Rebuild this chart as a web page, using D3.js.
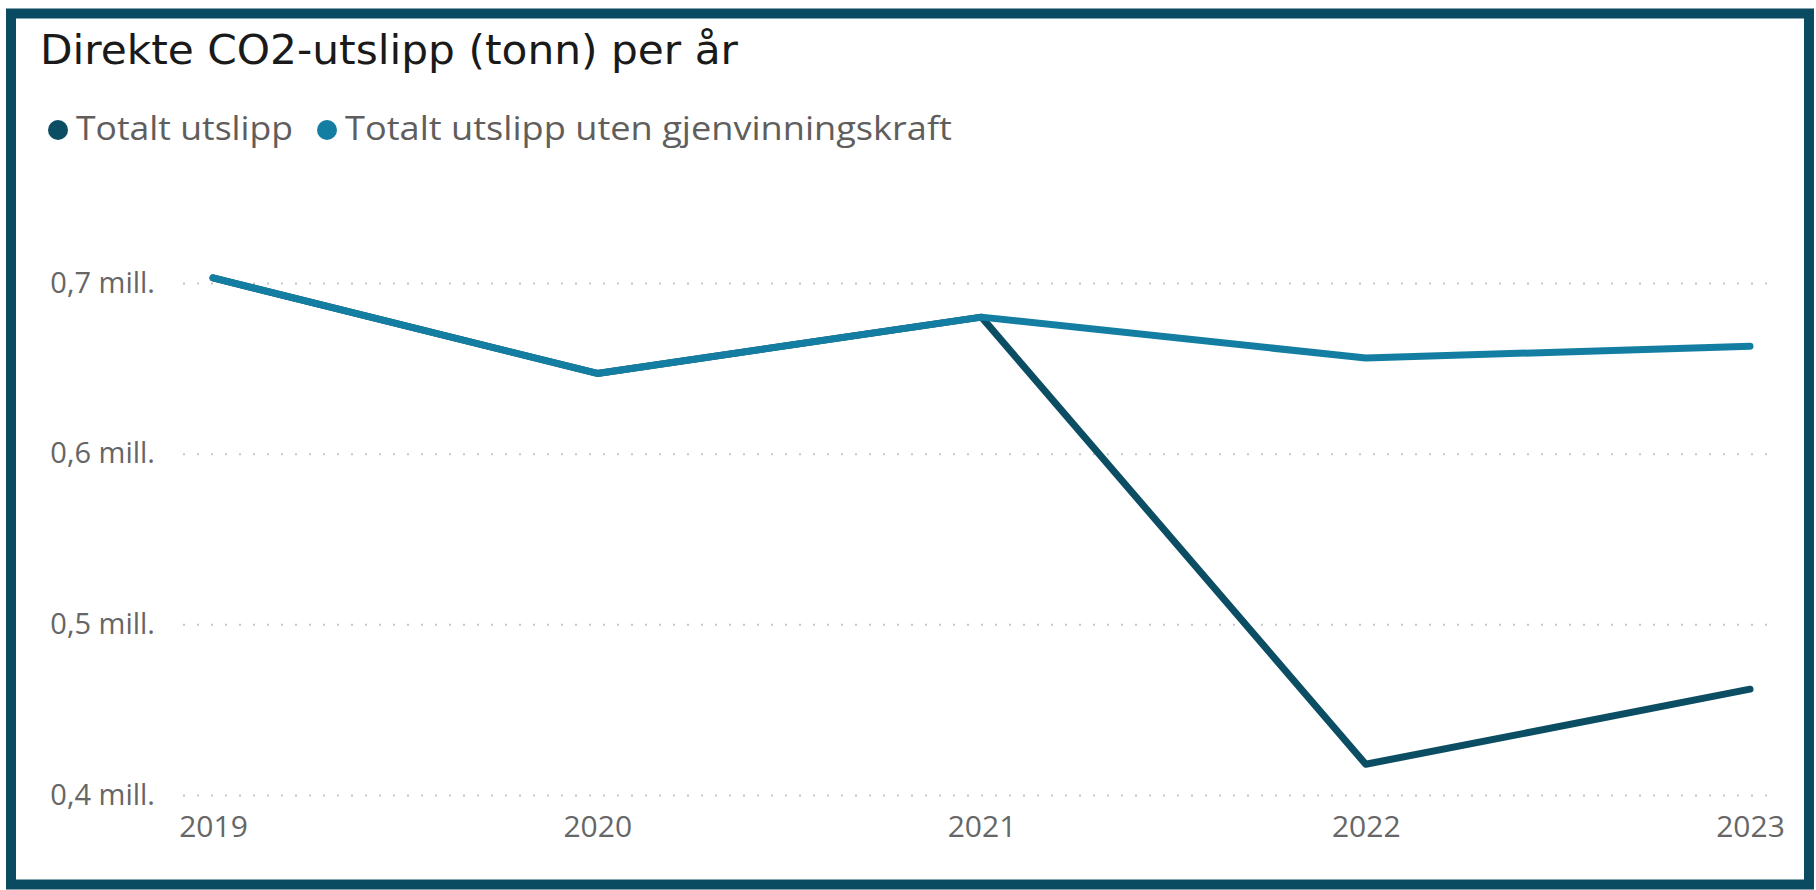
<!DOCTYPE html>
<html>
<head>
<meta charset="utf-8">
<script src="https://cdn.jsdelivr.net/npm/d3@7"></script>
<style>
  body { margin: 0; background: #fff; }
  svg { display: block; }
</style>
</head>
<body>
<div class="chart"></div>
<script>
// data
var years = ["2019", "2020", "2021", "2022", "2023"];
var totalt = [0.703, 0.647, 0.680, 0.418, 0.462];
var utenGjenvinning = [0.703, 0.647, 0.680, 0.656, 0.663];
var yTicks = [0.4, 0.5, 0.6, 0.7];
var seriesNames = ["Totalt utslipp", "Totalt utslipp uten gjenvinningskraft"];
var seriesColors = ["#0b4d63", "#137ea2"];

var svgWidth = 1816;
var svgHeight = 890;

var svg = d3.select(".chart")
  .append("svg")
  .attr("width", svgWidth)
  .attr("height", svgHeight);

// frame
svg.append("rect")
  .attr("x", 11)
  .attr("y", 13.5)
  .attr("width", 1798)
  .attr("height", 871)
  .attr("fill", "#fff")
  .attr("stroke", "#0b4b61")
  .attr("stroke-width", 10);

// title
svg.append("text")
  .attr("x", 40)
  .attr("y", 64)
  .attr("font-family", "'DejaVu Sans Condensed', 'Liberation Sans Narrow', sans-serif")
  .attr("font-size", 41)
  .attr("fill", "#1a1a1a")
  .attr("textLength", 698)
  .attr("lengthAdjust", "spacingAndGlyphs")
  .text("Direkte CO2-utslipp (tonn) per år");

// legend
var legendPos = [
  { cx: 58, tx: 76, len: 217 },
  { cx: 327, tx: 345, len: 607 }
];
seriesNames.forEach(function(name, i) {
  svg.append("circle")
    .attr("cx", legendPos[i].cx)
    .attr("cy", 130)
    .attr("r", 10)
    .attr("fill", seriesColors[i]);
  svg.append("text")
    .attr("x", legendPos[i].tx)
    .attr("y", 140)
    .attr("font-family", "'Open Sans', 'Noto Sans', sans-serif")
    .attr("font-size", 32)
    .attr("fill", "#605e5c")
    .attr("textLength", legendPos[i].len)
    .attr("lengthAdjust", "spacingAndGlyphs")
    .text(name);
});

// scales
var xScale = d3.scalePoint()
  .domain(years)
  .range([213, 1750]);

var yScale = d3.scaleLinear()
  .domain([0.4, 0.7])
  .range([795, 283]);

// y axis with dotted gridlines
var leftAxis = d3.axisLeft(yScale)
  .tickValues(yTicks)
  .tickSize(-(1778 - 183))
  .tickPadding(28)
  .tickFormat(function(d) { return d.toFixed(1).replace(".", ",") + " mill."; });

var yAxisG = svg.append("g")
  .attr("transform", "translate(183,0)")
  .call(leftAxis);
yAxisG.select(".domain").remove();
yAxisG.selectAll(".tick line")
  .attr("stroke", "#c8c8c8")
  .attr("stroke-width", 2)
  .attr("stroke-dasharray", "2,12");
yAxisG.selectAll(".tick text")
  .attr("font-family", "'Open Sans', 'Noto Sans', sans-serif")
  .attr("font-size", 29)
  .attr("fill", "#666");

// x axis
var bottomAxis = d3.axisBottom(xScale)
  .tickSize(0)
  .tickPadding(8);

var xAxisG = svg.append("g")
  .attr("transform", "translate(0,808)")
  .call(bottomAxis);
xAxisG.select(".domain").remove();
xAxisG.selectAll(".tick text")
  .attr("font-family", "'Open Sans', 'Noto Sans', sans-serif")
  .attr("font-size", 30)
  .attr("fill", "#666");

// lines
var line = d3.line()
  .x(function(d, i) { return xScale(years[i]); })
  .y(function(d) { return yScale(d); });

[totalt, utenGjenvinning].forEach(function(values, i) {
  svg.append("path")
    .datum(values)
    .attr("d", line)
    .attr("fill", "none")
    .attr("stroke", seriesColors[i])
    .attr("stroke-width", 7)
    .attr("stroke-linejoin", "round")
    .attr("stroke-linecap", "round");
});
</script>
</body>
</html>
